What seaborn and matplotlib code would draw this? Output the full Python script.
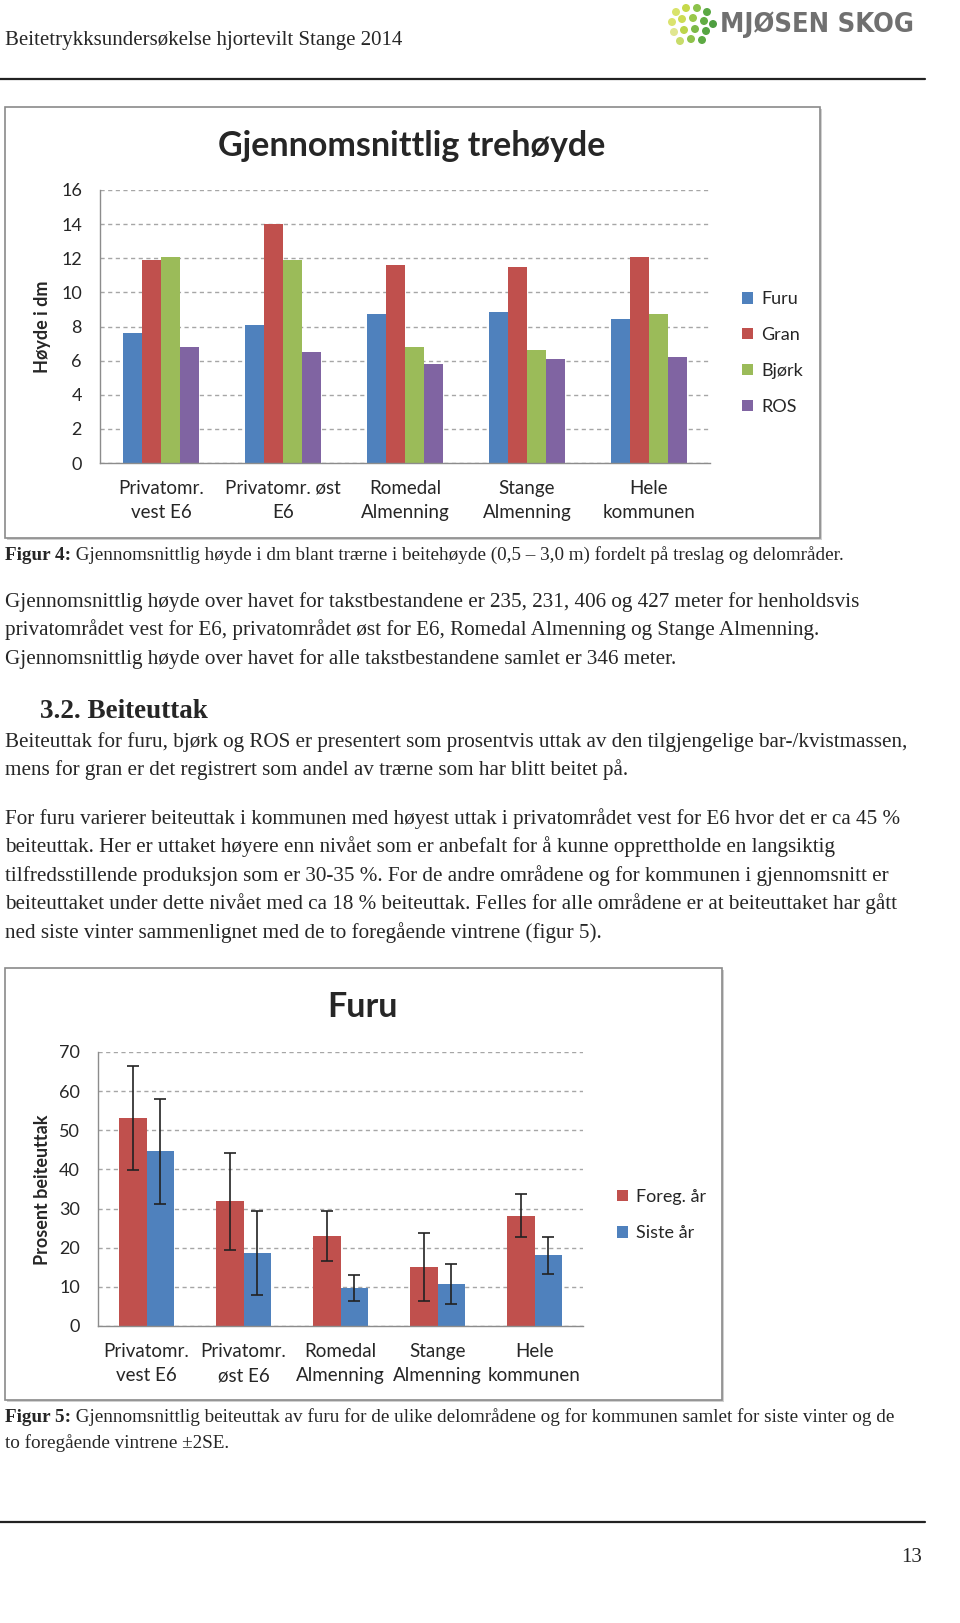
import matplotlib
matplotlib.use("Agg")
import matplotlib.pyplot as plt
import seaborn as sns
import pandas as pd
import numpy as np
from matplotlib.patches import Rectangle, Circle
from matplotlib.lines import Line2D

W, H = 960, 1623

# --- data, figure 4 (mean tree height, dm) ---
areas_1 = ["Privatomr.\nvest E6", "Privatomr. øst\nE6", "Romedal\nAlmenning",
           "Stange\nAlmenning", "Hele\nkommunen"]
species = ["Furu", "Gran", "Bjørk", "ROS"]
furu_h = [7.6, 8.1, 8.75, 8.85, 8.45]
gran_h = [11.9, 14.0, 11.6, 11.5, 12.1]
bjork_h = [12.05, 11.9, 6.8, 6.6, 8.75]
ros_h = [6.8, 6.5, 5.8, 6.1, 6.2]
height_ticks = [0, 2, 4, 6, 8, 10, 12, 14, 16]

# --- data, figure 5 (browsing of pine, %) ---
areas_2 = ["Privatomr.\nvest E6", "Privatomr.\nøst E6", "Romedal\nAlmenning",
           "Stange\nAlmenning", "Hele\nkommunen"]
periods = ["Foreg. år", "Siste år"]
foreg = [53.1, 31.9, 23.0, 15.1, 28.2]
siste = [44.6, 18.6, 9.8, 10.7, 18.1]
foreg_2se = [13.2, 12.4, 6.3, 8.6, 5.5]
siste_2se = [13.5, 10.7, 3.3, 5.2, 4.7]
pct_ticks = [0, 10, 20, 30, 40, 50, 60, 70]

colors_1 = ["#4F81BD", "#C0504D", "#9BBB59", "#8064A2"]
colors_2 = ["#C0504D", "#4F81BD"]

sns.set_style("white")
plt.rcParams["font.family"] = ["Lato", "DejaVu Sans"]
SERIF = ["Liberation Serif", "DejaVu Serif"]

fig = plt.figure(figsize=(W / 100, H / 100), dpi=100)


def px_axes(left, top, right, bottom):
    return fig.add_axes([left / W, 1 - bottom / H, (right - left) / W, (bottom - top) / H])


def fx(x):
    return x / W


def fy(y):
    return 1 - y / H


def style_axes(ax, ticks):
    ax.set_xlim(-0.5, 4.5)
    ax.set_ylim(ticks[0], ticks[-1])
    ax.set_yticks(ticks)
    ax.yaxis.grid(True, linestyle=(0, (3, 2.5)), color="#a6a6a6", linewidth=1)
    ax.set_axisbelow(True)
    for s in ["top", "right"]:
        ax.spines[s].set_visible(False)
    for s in ["left", "bottom"]:
        ax.spines[s].set_color("#8c8c8c")
        ax.spines[s].set_linewidth(1)
    ax.tick_params(axis="y", length=5, color="#8c8c8c", labelsize=13, pad=8)
    ax.tick_params(axis="x", which="major", length=0, labelsize=13.5, pad=12)
    for lbl in ax.get_xticklabels():
        lbl.set_linespacing(1.55)
    ax.set_xticks(np.arange(-0.5, 5, 1), minor=True)
    ax.tick_params(axis="x", which="minor", length=5, color="#8c8c8c")
    ax.set_xlabel("")


# page furniture
fig.text(fx(5), fy(41), "Beitetrykksundersøkelse hjortevilt Stange 2014",
         family=SERIF, fontsize=15, va="center", ha="left")
fig.text(fx(720), fy(25), "MJØSEN SKOG", fontsize=19.5, fontweight="heavy",
         color="#707070", va="center", ha="left", family=["DejaVu Sans"], fontstretch="condensed")
logo = [(676, 12, "#d9e36b"), (686, 8, "#c6d94a"), (697, 8, "#8cc24a"), (707, 12, "#5aa844"),
        (672, 22, "#dbe36f"), (682, 19, "#cddc55"), (693, 18, "#99c84a"), (704, 21, "#62ad45"),
        (713, 24, "#4e9e40"), (674, 32, "#e0e690"), (684, 30, "#bcd54a"), (695, 29, "#7cb947"),
        (706, 31, "#56a542"), (680, 41, "#c8dc6a"), (691, 39, "#8fc24b"), (702, 40, "#5daa43")]
for lx, ly, lc in logo:
    fig.patches.append(Circle((lx / 100, (H - ly) / 100), 4.0 / 100, transform=fig.dpi_scale_trans,
                              facecolor=lc, edgecolor="none", zorder=-2))
fig.add_artist(Line2D([0, fx(925)], [fy(79), fy(79)], color="#222222", lw=1.6))
fig.add_artist(Line2D([0, fx(925)], [fy(1522), fy(1522)], color="#222222", lw=1.6))
fig.text(fx(912), fy(1558), "13", family=SERIF, fontsize=15, ha="center", va="center")

# chart frames (drawn beneath the axes)
for (l, t, r, b) in [(5, 107, 820, 538), (5, 968, 722, 1400)]:
    fig.patches.append(Rectangle((fx(l + 2), fy(b + 2)), (r - l) / W, (b - t) / H,
                                 transform=fig.transFigure, facecolor="#d0d0d0",
                                 edgecolor="none", zorder=-3))
    fig.patches.append(Rectangle((fx(l), fy(b)), (r - l) / W, (b - t) / H,
                                 transform=fig.transFigure, facecolor="white",
                                 edgecolor="#8a8a8a", lw=1.2, zorder=-2))

# --- figure 4 ---
df1 = pd.DataFrame({
    "area": areas_1 * 4,
    "species": sum([[s] * 5 for s in species], []),
    "value": furu_h + gran_h + bjork_h + ros_h,
})
ax1 = px_axes(100, 190, 710, 463)
ax1.patch.set_alpha(0)
sns.barplot(data=df1, x="area", y="value", hue="species", hue_order=species,
            palette=colors_1, width=0.63, saturation=1, linewidth=0,
            errorbar=None, ax=ax1)
style_axes(ax1, height_ticks)
ax1.set_ylabel("Høyde i dm", fontsize=13, fontweight="bold")
ax1.yaxis.set_label_coords((51 - 100) / 610, 0.5)
h, lab = ax1.get_legend_handles_labels()
ax1.legend(h, lab, loc="center left", bbox_to_anchor=(fx(733), fy(353)),
           bbox_transform=fig.transFigure, frameon=False, fontsize=13, borderpad=0,
           handlelength=0.6, handleheight=0.6, handletextpad=0.45, labelspacing=1.1)
fig.text(fx(412), fy(146), "Gjennomsnittlig trehøyde", fontsize=24.5, fontweight="bold",
         ha="center", va="center")

# --- figure 5 ---
df2 = pd.DataFrame({
    "area": areas_2 * 2,
    "period": [periods[0]] * 5 + [periods[1]] * 5,
    "value": foreg + siste,
})
ax2 = px_axes(98, 1052, 583, 1326)
ax2.patch.set_alpha(0)
sns.barplot(data=df2, x="area", y="value", hue="period", hue_order=periods,
            palette=colors_2, width=0.57, saturation=1, linewidth=0,
            errorbar=None, ax=ax2)
bars = list(ax2.containers)
for cont, vals, errs in zip(bars, [foreg, siste], [foreg_2se, siste_2se]):
    xs = [b.get_x() + b.get_width() / 2 for b in cont]
    ax2.errorbar(xs, vals, yerr=errs, fmt="none", ecolor="#222222",
                 elinewidth=1.2, capsize=4, capthick=1.2)
style_axes(ax2, pct_ticks)
ax2.set_ylabel("Prosent beiteuttak", fontsize=13, fontweight="bold")
ax2.yaxis.set_label_coords((51 - 98) / 485, (1326 - 1190) / 274)
h, lab = ax2.get_legend_handles_labels()
ax2.legend(h[:2], lab[:2], loc="center left", bbox_to_anchor=(fx(608), fy(1215)),
           bbox_transform=fig.transFigure, frameon=False, fontsize=13, borderpad=0,
           handlelength=0.6, handleheight=0.6, handletextpad=0.45, labelspacing=1.15)
fig.text(fx(363), fy(1007), "Furu", fontsize=24.5, fontweight="bold", ha="center", va="center")

# --- body text ---
BODY = 15.2
CAP = 13.8


def line(y, s, x=5, size=BODY, **kw):
    return fig.text(fx(x), fy(y), s, family=SERIF, fontsize=size, ha="left", va="center", **kw)


def caption(y, bold, rest):
    t = line(y, bold, size=CAP, fontweight="bold")
    fig.canvas.draw()
    bb = t.get_window_extent(renderer=fig.canvas.get_renderer())
    line(y, " " + rest, x=bb.x1, size=CAP)


caption(555, "Figur 4:", "Gjennomsnittlig høyde i dm blant trærne i beitehøyde (0,5 – 3,0 m) fordelt på treslag og delområder.")
line(602, "Gjennomsnittlig høyde over havet for takstbestandene er 235, 231, 406 og 427 meter for henholdsvis")
line(630, "privatområdet vest for E6, privatområdet øst for E6, Romedal Almenning og Stange Almenning.")
line(659, "Gjennomsnittlig høyde over havet for alle takstbestandene samlet er 346 meter.")
fig.text(fx(40), fy(711), "3.2. Beiteuttak", family=SERIF, fontsize=19.5, fontweight="bold",
         ha="left", va="center")
line(742, "Beiteuttak for furu, bjørk og ROS er presentert som prosentvis uttak av den tilgjengelige bar-/kvistmassen,")
line(770, "mens for gran er det registrert som andel av trærne som har blitt beitet på.")
line(819, "For furu varierer beiteuttak i kommunen med høyest uttak i privatområdet vest for E6 hvor det er ca 45 %")
line(847, "beiteuttak. Her er uttaket høyere enn nivået som er anbefalt for å kunne opprettholde en langsiktig")
line(876, "tilfredsstillende produksjon som er 30-35 %. For de andre områdene og for kommunen i gjennomsnitt er")
line(904, "beiteuttaket under dette nivået med ca 18 % beiteuttak. Felles for alle områdene er at beiteuttaket har gått")
line(933, "ned siste vinter sammenlignet med de to foregående vintrene (figur 5).")
caption(1417, "Figur 5:", "Gjennomsnittlig beiteuttak av furu for de ulike delområdene og for kommunen samlet for siste vinter og de")
line(1443, "to foregående vintrene ±2SE.", size=CAP)

fig.savefig("out.png", dpi=100)
